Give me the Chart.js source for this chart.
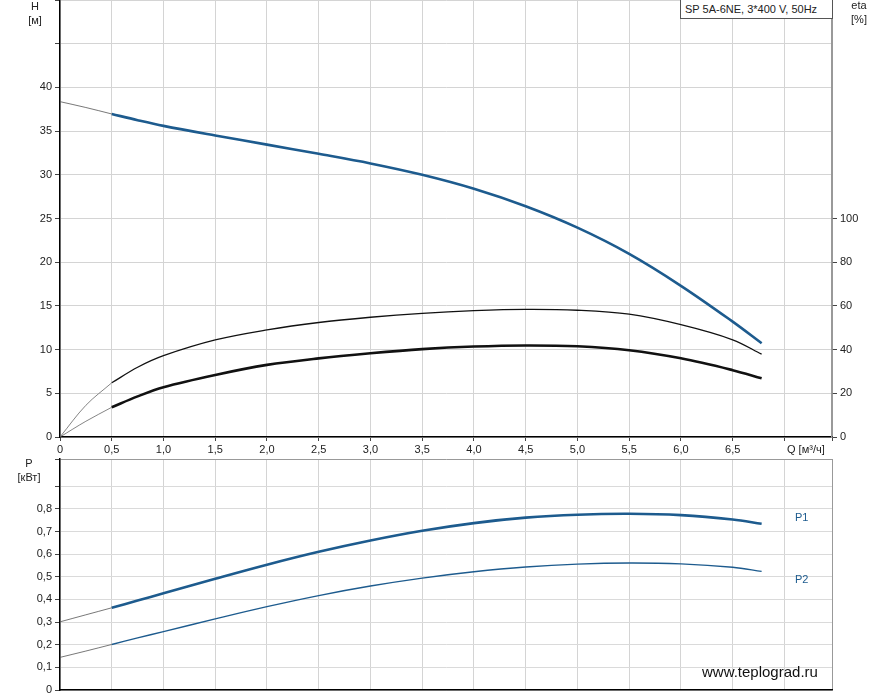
<!DOCTYPE html>
<html>
<head>
<meta charset="utf-8">
<script src="https://cdn.jsdelivr.net/npm/chart.js@4.4.1/dist/chart.umd.min.js"></script>
<style>
  body { margin: 0; background: #fff; }
  #wrap { position: relative; width: 887px; height: 700px; font-family: "Liberation Sans", Arial, sans-serif; color: #222; }
  #c1 { position: absolute; left: 0; top: 0; }
  #c2 { position: absolute; left: 0; top: 458px; }
  .lbl { position: absolute; font-size: 11px; line-height: 14px; text-align: center; }
  #title { position: absolute; left: 680px; top: 0; width: 147px; height: 18px; border: 1px solid #555; border-top: none;
           background: #fff; font-size: 11px; line-height: 18px; padding-left: 4px; white-space: nowrap; }
  #site { position: absolute; left: 702px; top: 663px; font-size: 15px; color: #111; }
</style>
</head>
<body>
<div id="wrap">
  <canvas id="c1" width="887" height="458"></canvas>
  <canvas id="c2" width="887" height="242"></canvas>
  <div id="title">SP 5A-6NE, 3*400 V, 50Hz</div>
  <div class="lbl" style="left:20px;top:-1px;width:30px">H<br>[м]</div>
  <div class="lbl" style="left:844px;top:-2px;width:30px">eta<br>[%]</div>
  <div class="lbl" style="left:8px;top:456px;width:42px">P<br>[кВт]</div>
  <div class="lbl" style="left:787px;top:442px;text-align:left">Q [м³/ч]</div>
  <div class="lbl" style="left:795px;top:510px;color:#1d5b8e;text-align:left">P1</div>
  <div class="lbl" style="left:795px;top:572px;color:#1d5b8e;text-align:left">P2</div>
  <div id="site">www.teplograd.ru</div>
</div>
<script>
const BLUE = "#1d5b8e";

// flow points, m3/h
const q = [0.5, 0.75, 1.0, 1.5, 2.0, 2.5, 3.0, 3.5, 4.0, 4.5, 5.0, 5.5, 6.0, 6.5, 6.78];
const qExt = [0, 0.25, 0.5];

// head, m
const head = [36.96, 36.25, 35.6, 34.5, 33.45, 32.4, 31.3, 30.0, 28.4, 26.4, 23.95, 20.95, 17.3, 13.2, 10.73];
const headExt = [38.37, 37.7, 36.96];

// efficiency, %
const eta1 = [24.8, 31.9, 37.2, 44.4, 49.0, 52.4, 54.8, 56.6, 57.8, 58.4, 58.0, 56.2, 51.4, 44.5, 37.9];
const eta1Ext = [0, 14.5, 24.8];
const eta2 = [13.6, 18.6, 22.8, 28.4, 33.0, 36.0, 38.3, 40.2, 41.4, 41.9, 41.5, 39.7, 36.0, 30.6, 26.9];
const eta2Ext = [0, 7.2, 13.6];

// power, kW
const p1 = [0.363, 0.395, 0.427, 0.491, 0.553, 0.61, 0.66, 0.703, 0.737, 0.761, 0.774, 0.778, 0.772, 0.753, 0.734];
const p1Ext = [0.301, 0.332, 0.363];
const p2 = [0.201, 0.23, 0.258, 0.314, 0.368, 0.417, 0.459, 0.494, 0.522, 0.543, 0.556, 0.561, 0.557, 0.542, 0.524];
const p2Ext = [0.144, 0.172, 0.201];

const pts = (xs, ys) => xs.map((x, i) => ({ x: x, y: ys[i] }));

function line(data, color, width, axis) {
  return {
    data: data,
    borderColor: color,
    borderWidth: width,
    pointRadius: 0,
    fill: false,
    tension: 0.35,
    yAxisID: axis || "y"
  };
}

const tickFont = { family: "Liberation Sans", size: 11 };
const fmt = v => v === 0 ? "0" : v.toFixed(1).replace(".", ",");
// no extra room for half labels above/below the plot
const noPad = s => { s.paddingTop = 0; s.paddingBottom = 0; };

/* Top chart: H and eta */
new Chart(document.getElementById("c1"), {
  type: "line",
  data: {
    datasets: [
      line(pts(qExt, headExt), "#555", 0.8),
      line(pts(qExt, eta1Ext), "#666", 0.8, "y2"),
      line(pts(qExt, eta2Ext), "#666", 0.8, "y2"),
      line(pts(q, eta1), "#111", 1.3, "y2"),
      line(pts(q, eta2), "#111", 2.6, "y2"),
      line(pts(q, head), BLUE, 2.6)
    ]
  },
  options: {
    responsive: false,
    animation: false,
    layout: { padding: 0 },
    plugins: { legend: { display: false }, tooltip: { enabled: false } },
    scales: {
      x: {
        type: "linear", min: 0, max: 7.46,
        ticks: {
          stepSize: 0.5, color: "#222", font: tickFont, padding: 2, maxRotation: 0, autoSkip: false,
          callback: v => v > 6.9 ? "" : fmt(v)
        },
        grid: { color: c => c.tick && c.tick.value > 7.4 ? "#999" : "#d4d4d4", tickLength: 4, tickColor: "#444" },
        border: { color: "#000", width: 1.5 },
        afterFit: s => { s.height = 21; }
      },
      y: {
        min: 0, max: 50,
        ticks: { stepSize: 5, color: "#222", font: tickFont, padding: 3, callback: v => v <= 40 ? v : "" },
        grid: { color: "#d4d4d4", tickLength: 5, tickColor: "#444" },
        border: { color: "#000", width: 1.5 },
        afterFit: s => { s.width = 60; noPad(s); }
      },
      y2: {
        position: "right", min: 0, max: 200,
        ticks: { stepSize: 20, color: "#222", font: tickFont, padding: 3 },
        afterBuildTicks: s => { s.ticks = s.ticks.filter(t => t.value <= 100); },
        grid: { drawOnChartArea: false, tickLength: 5, tickColor: "#444" },
        border: { color: "#999", width: 1.5 },
        afterFit: s => { s.width = 55; noPad(s); }
      }
    }
  }
});

/* Bottom chart: P1, P2 */
new Chart(document.getElementById("c2"), {
  type: "line",
  data: {
    datasets: [
      line(pts(qExt, p1Ext), "#555", 0.8),
      line(pts(qExt, p2Ext), "#555", 0.8),
      line(pts(q, p1), BLUE, 2.6),
      line(pts(q, p2), BLUE, 1.4)
    ]
  },
  options: {
    responsive: false,
    animation: false,
    layout: { padding: { top: 1, right: 55, left: 0, bottom: 0 } },
    plugins: { legend: { display: false }, tooltip: { enabled: false } },
    scales: {
      x: {
        type: "linear", min: 0, max: 7.46,
        ticks: { stepSize: 0.5, display: false },
        grid: { color: c => c.tick && c.tick.value > 7.4 ? "#999" : "#d4d4d4", drawTicks: false },
        border: { color: "#000", width: 1.5 },
        afterFit: s => { s.height = 10; }
      },
      y: {
        min: 0, max: 1.02,
        ticks: {
          stepSize: 0.1, color: "#222", font: tickFont, padding: 3, autoSkip: false,
          callback: v => v <= 0.85 ? fmt(Math.round(v * 10) / 10) : ""
        },
        grid: { color: c => c.tick && c.tick.value > 1.01 ? "#999" : "#dadada", tickLength: 5, tickColor: "#444" },
        border: { color: "#000", width: 1.5 },
        afterFit: s => { s.width = 60; noPad(s); }
      }
    }
  }
});
</script>
</body>
</html>
